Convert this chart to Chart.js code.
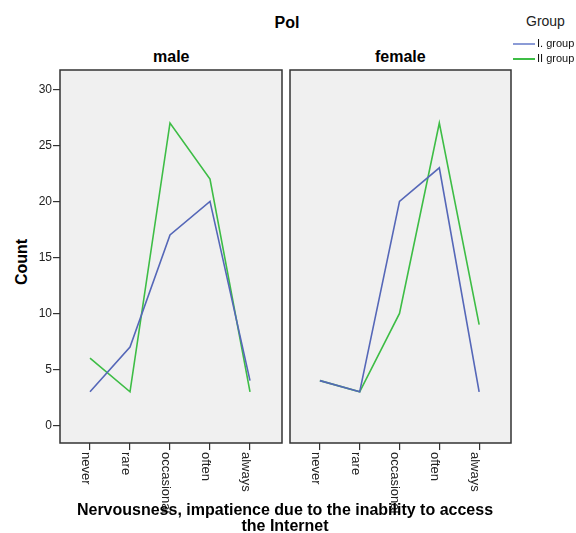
<!DOCTYPE html>
<html>
<head>
<meta charset="utf-8">
<script src="https://cdn.jsdelivr.net/npm/chart.js@4.4.1/dist/chart.umd.min.js"></script>
<style>
  html, body { margin: 0; padding: 0; background: #fff; }
  #wrap { position: relative; width: 576px; height: 533px; font-family: "Liberation Sans", Arial, sans-serif; color: #000; }
  .abs { position: absolute; white-space: nowrap; }
  .bold { font-weight: bold; }
  canvas { position: absolute; top: 0; }
</style>
</head>
<body>
<div id="wrap">
  <div class="abs bold" style="left:0;width:576px;top:14px;text-align:center;font-size:16px;margin-left:-1px;">Pol</div>
  <div class="abs bold" id="tMale" style="top:48px;font-size:16px;">male</div>
  <div class="abs bold" id="tFemale" style="top:48px;font-size:16px;">female</div>
  <div class="abs" style="left:526px;top:13px;font-size:14px;color:#222;">Group</div>
  <div class="abs bold" style="left:22px;top:262px;font-size:16px;transform:translate(-50%,-50%) rotate(-90deg);">Count</div>
  <canvas id="male" width="290" height="533" style="left:0;width:290px;height:533px;"></canvas>
  <canvas id="female" width="230" height="533" style="left:287px;width:230px;height:533px;"></canvas>
  <div class="abs bold" style="left:60px;width:450px;top:502px;text-align:center;font-size:16px;line-height:16px;z-index:2;">Nervousness, impatience due to the inability to access<br>the Internet</div>
  <div id="legend"></div>
</div>
<script>
const categories = ["never", "rare", "occasional", "often", "always"];
const groups = ["I. group", "II group"];
const maleGroup1   = [3, 7, 17, 20, 4];
const maleGroup2   = [6, 3, 27, 22, 3];
const femaleGroup1 = [4, 3, 20, 23, 3];
const femaleGroup2 = [4, 3, 10, 27, 9];
const yTicks = [0, 5, 10, 15, 20, 25, 30];
const colors = ["#5567b8", "#3dbd45"];

// legend (HTML)
const legend = document.getElementById("legend");
groups.forEach((g, i) => {
  const y = 44 + i * 15;
  legend.insertAdjacentHTML("beforeend",
    `<div class="abs" style="left:513px;top:${y - 1}px;width:22px;height:2px;background:${i === 0 ? "#8b9bd6" : colors[1]};"></div>` +
    `<div class="abs" style="left:537px;top:${y - 7}px;font-size:11px;line-height:13px;color:#111;">${g}</div>`);
});

const panelPlugin = {
  id: "panel",
  beforeDraw(chart) {
    const { ctx, chartArea: a } = chart;
    ctx.save();
    ctx.fillStyle = "#f0f0f0";
    ctx.fillRect(a.left, a.top, a.right - a.left, a.bottom - a.top);
    ctx.restore();
  },
  afterDraw(chart) {
    const { ctx, chartArea: a, scales } = chart;
    ctx.save();
    ctx.strokeStyle = "#333";
    ctx.lineWidth = 1.5;
    ctx.strokeRect(a.left, a.top, a.right - a.left, a.bottom - a.top);
    // rotated category labels, reading downward
    ctx.fillStyle = "#222";
    ctx.font = "13px 'Liberation Sans', Arial, sans-serif";
    ctx.textBaseline = "top";
    ctx.textAlign = "left";
    categories.forEach((c, i) => {
      const x = scales.x.getPixelForValue(i);
      ctx.save();
      ctx.translate(x + 2, a.bottom + 9);
      ctx.rotate(Math.PI / 2);
      ctx.fillText(c, 0, 0);
      ctx.restore();
    });
    ctx.restore();
  }
};

function makeChart(id, s1, s2, showY, padLeft, padRight) {
  const toXY = arr => arr.map((v, i) => ({ x: i, y: v }));
  return new Chart(document.getElementById(id), {
    type: "line",
    data: {
      datasets: [
        { label: groups[0], data: toXY(s1), borderColor: colors[0], borderWidth: 1.6, pointRadius: 0, tension: 0 },
        { label: groups[1], data: toXY(s2), borderColor: colors[1], borderWidth: 1.6, pointRadius: 0, tension: 0 },
      ],
    },
    options: {
      responsive: false,
      animation: false,
      layout: { padding: { top: 70, left: padLeft, right: padRight, bottom: 0 } },
      plugins: { legend: { display: false }, title: { display: false }, tooltip: { enabled: false } },
      scales: {
        x: {
          type: "linear",
          min: -0.75,
          max: 4.8,
          afterBuildTicks: s => { s.ticks = categories.map((c, i) => ({ value: i })); },
          afterFit: s => { s.height = 90; },
          ticks: { display: false },
          grid: { drawOnChartArea: false, drawTicks: true, tickLength: 7, color: "#333", lineWidth: 1.2 },
          border: { display: false },
        },
        y: {
          display: showY ? true : false,
          min: -1.57,
          max: 31.73,
          afterBuildTicks: s => { s.ticks = yTicks.map(v => ({ value: v })); },
          afterFit: s => { s.width = showY ? 60 : 0; },
          ticks: { color: "#222", padding: 1, font: { family: "'Liberation Sans', Arial, sans-serif", size: 12 } },
          grid: { drawOnChartArea: false, drawTicks: true, tickLength: 7, color: "#333", lineWidth: 1.2 },
          border: { display: false },
        },
      },
    },
    plugins: [panelPlugin],
  });
}

const cm = makeChart("male", maleGroup1, maleGroup2, true, 0, 8);
const cf = makeChart("female", femaleGroup1, femaleGroup2, false, 3, 6);

function centerTitle(elId, chart, offset) {
  const el = document.getElementById(elId);
  const a = chart.chartArea;
  el.style.left = (offset + (a.left + a.right) / 2 - el.offsetWidth / 2) + "px";
}
centerTitle("tMale", cm, 0);
centerTitle("tFemale", cf, 287);
</script>
</body>
</html>
